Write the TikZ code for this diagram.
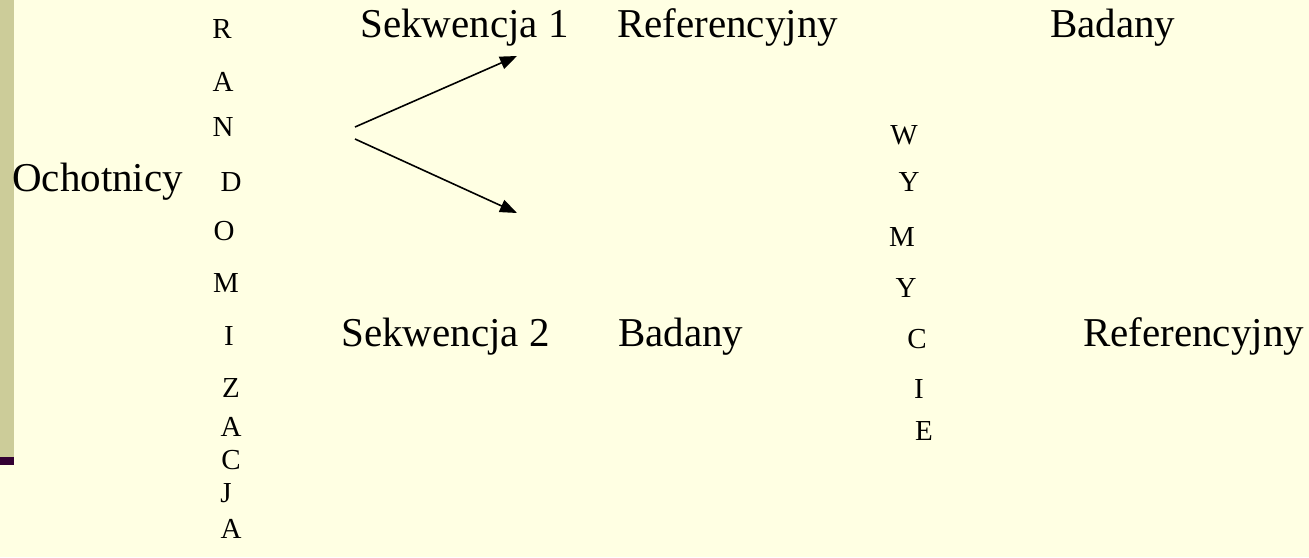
\documentclass[tikz,border=0pt]{standalone}
\usepackage{fontspec}
\setmainfont{Liberation Serif}
\usetikzlibrary{arrows.meta}
\definecolor{slidebg}{HTML}{FFFFE3}
\definecolor{barcol}{HTML}{CCCC99}
\definecolor{barend}{HTML}{330033}
\begin{document}
\begin{tikzpicture}[x=1pt,y=-1pt,
  big/.style={inner sep=0pt,anchor=base west,font=\fontsize{41}{41}\selectfont},
  letter/.style={inner sep=0pt,anchor=base,font=\fontsize{29}{29}\selectfont},
  branch/.style={line width=1.6pt,-{Triangle[length=17pt,width=13pt]}}]
  % slide background and side bar
  \fill[slidebg] (0,0) rectangle (1309,557);
  \useasboundingbox (0,0) rectangle (1309,557);
  \fill[barcol] (0,0) rectangle (14,457);
  \fill[barend] (0,457) rectangle (14,465);

  % labels
  \node[big] (vol) at (12,191) {Ochotnicy};
  \node[big] (seq1) at (360,37) {Sekwencja 1};
  \node[big] (ref1) at (617,37) {Referencyjny};
  \node[big] (test1) at (1050,37) {Badany};
  \node[big] (seq2) at (341,346) {Sekwencja 2};
  \node[big] (test2) at (618,346) {Badany};
  \node[big] (ref2) at (1083,346) {Referencyjny};

  % vertical word: RANDOMIZACJA
  \node[letter] (r1)  at (222,38)  {R};
  \node[letter] (r2)  at (223,91)  {A};
  \node[letter] (r3)  at (223,136) {N};
  \node[letter] (r4)  at (231,191) {D};
  \node[letter] (r5)  at (224,240) {O};
  \node[letter] (r6)  at (226,292) {M};
  \node[letter] (r7)  at (229,345) {I};
  \node[letter] (r8)  at (231,397) {Z};
  \node[letter] (r9)  at (231,436) {A};
  \node[letter] (r10) at (231,469) {C};
  \node[letter] (r11) at (226,502) {J};
  \node[letter] (r12) at (231,538) {A};

  % vertical word: WYMYCIE
  \node[letter] (w1) at (904,144) {W};
  \node[letter] (w2) at (909,191) {Y};
  \node[letter] (w3) at (902,246) {M};
  \node[letter] (w4) at (906,297) {Y};
  \node[letter] (w5) at (917,348) {C};
  \node[letter] (w6) at (919,398) {I};
  \node[letter] (w7) at (924,440) {E};

  % the two branches of the randomisation
  \coordinate (forkA) at (355,127);
  \coordinate (forkB) at (355,139);
  \coordinate (tipA) at (517,56);
  \coordinate (tipB) at (517,213);
  \draw[branch] (forkA) -- (tipA);
  \draw[branch] (forkB) -- (tipB);
\end{tikzpicture}
\end{document}
